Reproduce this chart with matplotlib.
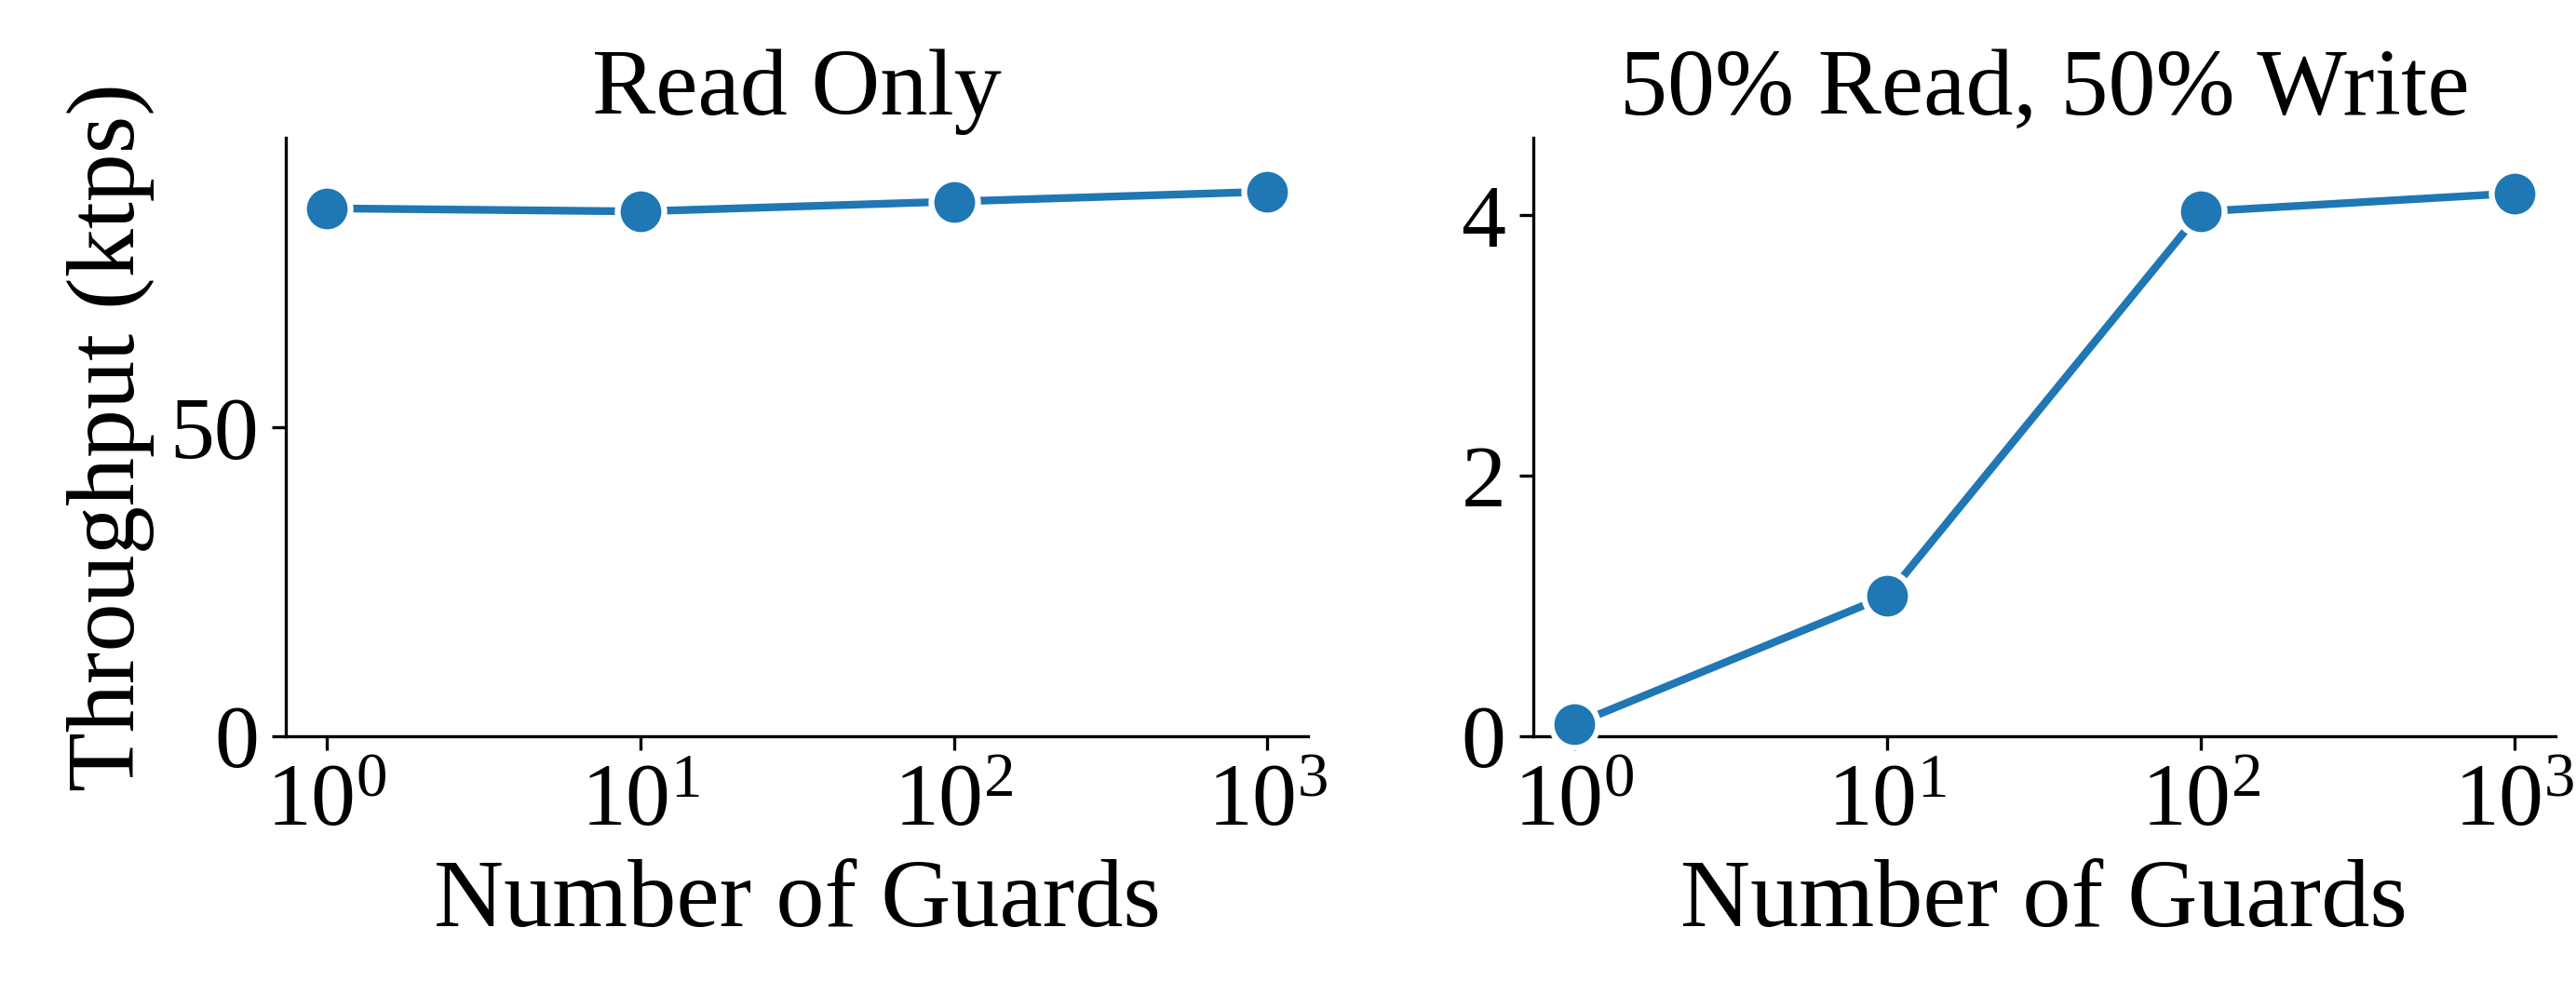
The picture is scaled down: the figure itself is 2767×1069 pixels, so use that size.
import matplotlib
matplotlib.use("Agg")
import matplotlib.pyplot as plt

guards = [1, 10, 100, 1000]
read_only = [85.5, 85.0, 86.6, 88.2]
mixed = [0.09, 1.08, 4.03, 4.17]
titles = ["Read Only", "50% Read, 50% Write"]
xlabel = "Number of Guards"
ylabel = "Throughput (ktps)"

plt.rcParams['font.family'] = ['Liberation Serif', 'DejaVu Serif']
plt.rcParams['mathtext.fontset'] = 'stix'

fig, axes = plt.subplots(1, 2, figsize=(2767/300, 1069/300), dpi=300)
color = '#1f77b4'
for ax, ys, t, ylim, yt in zip(axes, [read_only, mixed], titles,
                               [(0, 97), (0, 4.6)], [[0, 50], [0, 2, 4]]):
    ax.plot(guards, ys, '-o', color=color, lw=2, ms=12,
            markeredgecolor='white', markeredgewidth=1.5, clip_on=False, zorder=3)
    ax.set_xscale('log')
    ax.set_xlim(10**-0.13, 10**3.13)
    ax.set_ylim(*ylim)
    ax.set_yticks(yt)
    ax.set_xticks(guards)
    ax.minorticks_off()
    ax.set_title(t, fontsize=24.5)
    ax.set_xlabel(xlabel, fontsize=25)
    ax.spines['top'].set_visible(False)
    ax.spines['right'].set_visible(False)
    ax.tick_params(labelsize=23)
axes[0].set_ylabel(ylabel, fontsize=25)
fig.subplots_adjust(left=0.111, right=0.992, bottom=0.26, top=0.862, wspace=0.22)
fig.savefig("out.png", dpi=300)
